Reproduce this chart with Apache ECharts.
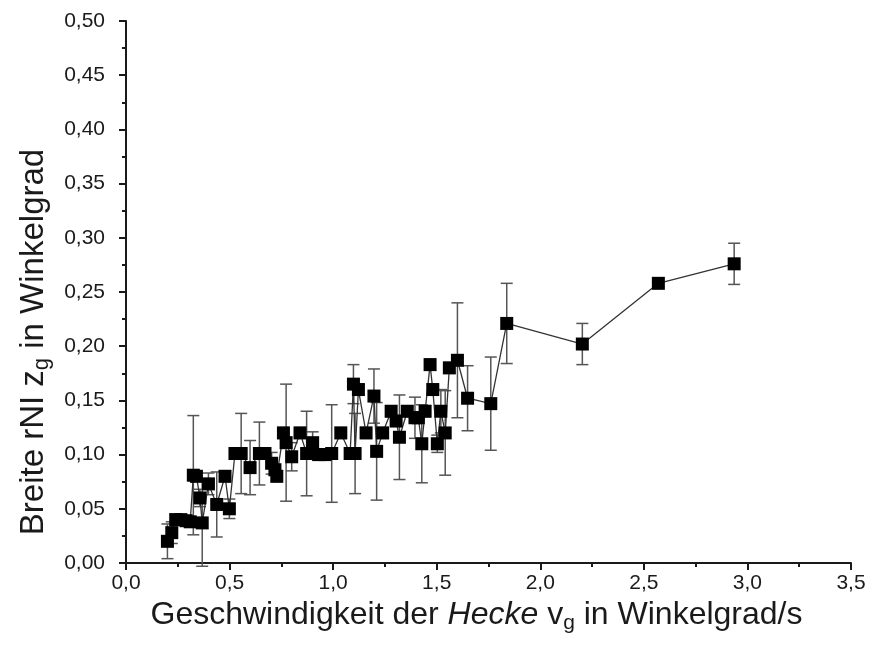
<!DOCTYPE html>
<html>
<head>
<meta charset="utf-8">
<script src="https://cdn.jsdelivr.net/npm/echarts@6/dist/echarts.min.js"></script>
<style>
html,body{margin:0;padding:0;background:#fff;}
#chart{width:872px;height:645px;}
</style>
</head>
<body>
<div id="chart"></div>
<script>
// Speed of the hedge (deg/s)
const speedValues = [0.200,0.221,0.240,0.265,0.290,0.310,0.325,0.340,0.357,0.368,0.398,0.438,0.478,0.499,0.526,0.556,0.599,0.644,0.671,0.703,0.719,0.728,0.760,0.773,0.800,0.840,0.872,0.901,0.930,0.960,0.993,1.037,1.082,1.098,1.106,1.122,1.159,1.197,1.210,1.239,1.280,1.304,1.320,1.358,1.395,1.411,1.428,1.444,1.468,1.481,1.503,1.520,1.541,1.561,1.600,1.649,1.761,1.838,2.203,2.570,2.936];
// Width rNI z_g (deg)
const widthValues = [0.020,0.028,0.040,0.040,0.039,0.038,0.081,0.080,0.060,0.037,0.073,0.054,0.080,0.050,0.101,0.101,0.088,0.101,0.101,0.092,0.086,0.080,0.120,0.111,0.098,0.120,0.101,0.111,0.100,0.100,0.101,0.120,0.101,0.165,0.101,0.160,0.120,0.154,0.103,0.120,0.140,0.131,0.116,0.140,0.134,0.134,0.110,0.140,0.183,0.160,0.110,0.140,0.120,0.180,0.187,0.152,0.147,0.221,0.202,0.258,0.276];
// Error (+/-)
const errorValues = [0.016,0.010,0.005,0.004,0.004,0.004,0.055,0.005,0.008,0.040,0.010,0.030,0.005,0.009,0.005,0.037,0.025,0.029,0.005,0.010,0.005,0.005,0.005,0.054,0.013,0.005,0.039,0.010,0.005,0.005,0.045,0.005,0.005,0.018,0.037,0.005,0.005,0.025,0.045,0.005,0.005,0.005,0.039,0.005,0.019,0.005,0.036,0.005,0.005,0.005,0.008,0.020,0.039,0.005,0.053,0.030,0.043,0.037,0.019,0.003,0.019];

const xTickFormat = v => v.toFixed(1).replace('.', ',');
const yTickFormat = v => v.toFixed(2).replace('.', ',');

const points = speedValues.map((x, i) => [x, widthValues[i]]);
const errData = speedValues.map((x, i) => [x, widthValues[i], errorValues[i]]);

const chart = echarts.init(document.getElementById('chart'), null, {renderer: 'canvas'});
const font = 'Liberation Sans, Arial, sans-serif';
const ink = '#1a1a1a';

chart.setOption({
  animation: false,
  backgroundColor: '#fff',
  grid: {left: 126, right: 21, top: 21, bottom: 82, containLabel: false},
  xAxis: {
    type: 'value', min: 0, max: 3.5, interval: 0.5,
    axisLine: {show: true, onZero: false, lineStyle: {color: ink, width: 2}},
    axisTick: {show: true, length: 7, lineStyle: {color: ink, width: 2}},
    minorTick: {show: true, splitNumber: 2, length: 4, lineStyle: {color: ink, width: 2}},
    splitLine: {show: false},
    axisLabel: {formatter: xTickFormat, fontFamily: font, fontSize: 21, color: ink, margin: 10},
    name: 'Geschwindigkeit der {i|Hecke} v{sub|g} in Winkelgrad/s',
    nameLocation: 'middle', nameGap: 32,
    nameTextStyle: {
      fontFamily: font, fontSize: 32, color: ink, padding: [0, 24, 0, 0],
      rich: {
        i: {fontFamily: font, fontSize: 32, fontStyle: 'italic', color: ink},
        sub: {fontFamily: font, fontSize: 21, color: ink, padding: [16, 0, 0, 0]}
      }
    }
  },
  yAxis: {
    type: 'value', min: 0, max: 0.5, interval: 0.05,
    axisLine: {show: true, onZero: false, lineStyle: {color: ink, width: 2}},
    axisTick: {show: true, length: 7, lineStyle: {color: ink, width: 2}},
    minorTick: {show: true, splitNumber: 2, length: 4, lineStyle: {color: ink, width: 2}},
    splitLine: {show: false},
    axisLabel: {formatter: yTickFormat, fontFamily: font, fontSize: 21, color: ink, margin: 21},
    name: 'Breite rNI z{sub|g} in Winkelgrad',
    nameLocation: 'middle', nameGap: 72,
    nameTextStyle: {
      fontFamily: font, fontSize: 33, color: ink, padding: [0, 100, 0, 0],
      rich: {
        sub: {fontFamily: font, fontSize: 22, color: ink, padding: [16, 0, 0, 0]}
      }
    }
  },
  series: [
    {
      type: 'custom',
      data: errData,
      z: 1,
      renderItem: function (params, api) {
        const x = api.value(0), y = api.value(1), e = api.value(2);
        const top = api.coord([x, y + e]);
        const bot = api.coord([x, y - e]);
        const hw = 6;
        const style = {stroke: '#555', lineWidth: 1.5};
        return {
          type: 'group',
          children: [
            {type: 'line', shape: {x1: top[0], y1: top[1], x2: bot[0], y2: bot[1]}, style: style},
            {type: 'line', shape: {x1: top[0] - hw, y1: top[1], x2: top[0] + hw, y2: top[1]}, style: style},
            {type: 'line', shape: {x1: bot[0] - hw, y1: bot[1], x2: bot[0] + hw, y2: bot[1]}, style: style}
          ]
        };
      }
    },
    {
      type: 'line',
      data: points,
      z: 3,
      symbol: 'rect',
      symbolSize: 13,
      lineStyle: {color: '#333', width: 1.3},
      itemStyle: {color: '#000'}
    }
  ]
});
</script>
</body>
</html>
